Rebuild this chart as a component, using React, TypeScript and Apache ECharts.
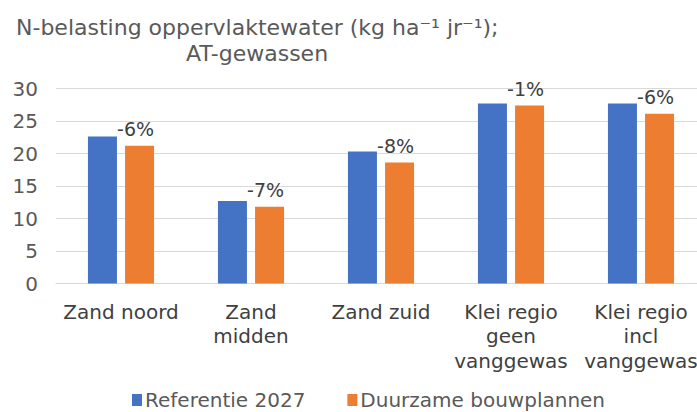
import React, { useEffect, useRef } from "react";
import * as echarts from "echarts";

const categories = [
  "Zand noord",
  "Zand\nmidden",
  "Zand zuid",
  "Klei regio\ngeen\nvanggewas",
  "Klei regio\nincl\nvanggewas",
];
const referentie = [22.6, 12.7, 20.3, 27.7, 27.7];
const duurzaam = [21.2, 11.8, 18.6, 27.4, 26.1];
const pctLabels = ["-6%", "-7%", "-8%", "-1%", "-6%"];
const yTicks = [0, 5, 10, 15, 20, 25, 30];

const FONT = "'DejaVu Sans', Verdana, sans-serif";

export default function App() {
  const ref = useRef<HTMLDivElement>(null);
  useEffect(() => {
    if (!ref.current) return;
    const chart = echarts.init(ref.current, undefined, { renderer: "svg" });
    chart.setOption({
      animation: false,
      textStyle: { fontFamily: FONT },
      title: [
        {
          text: "N-belasting oppervlaktewater (kg ha\u207B\u00B9 jr\u207B\u00B9);",
          left: 11,
          top: 11,
          textStyle: { fontFamily: FONT, fontSize: 22, fontWeight: "normal", color: "#595959" },
        },
        {
          text: "AT-gewassen",
          left: 181,
          top: 37,
          textStyle: { fontFamily: FONT, fontSize: 22, fontWeight: "normal", color: "#595959" },
        },
      ],
      legend: {
        left: 132,
        top: 390,
        padding: 0,
        itemWidth: 10,
        itemHeight: 12,
        itemGap: 42,
        icon: "rect",
        textStyle: {
          fontFamily: FONT,
          fontSize: 20,
          lineHeight: 16,
          color: "#595959",
          padding: [0, 0, 0, -2],
        },
        data: ["Referentie 2027", "Duurzame bouwplannen"],
      },
      grid: { left: 56, right: 0, top: 88.5, bottom: 128.5, containLabel: false },
      xAxis: {
        type: "category",
        data: categories,
        axisLine: { lineStyle: { color: "#d9d9d9", width: 1 } },
        axisTick: { show: false },
        axisLabel: {
          interval: 0,
          margin: 16,
          fontFamily: FONT,
          fontSize: 20,
          lineHeight: 24.5,
          color: "#404040",
        },
      },
      yAxis: {
        type: "value",
        min: yTicks[0],
        max: yTicks[yTicks.length - 1],
        interval: 5,
        axisLine: { show: false },
        axisTick: { show: false },
        splitLine: { lineStyle: { color: "#d9d9d9", width: 1 } },
        axisLabel: { margin: 18, fontFamily: FONT, fontSize: 20, color: "#595959" },
      },
      series: [
        {
          name: "Referentie 2027",
          type: "bar",
          data: referentie,
          barWidth: 29,
          barGap: "28%",
          itemStyle: { color: "#4472C4" },
        },
        {
          name: "Duurzame bouwplannen",
          type: "bar",
          data: duurzaam,
          barWidth: 29,
          barGap: "28%",
          itemStyle: { color: "#ED7D31" },
          label: {
            show: true,
            position: "top",
            distance: 7,
            offset: [-4, 0],
            fontFamily: FONT,
            fontSize: 19,
            color: "#404040",
            formatter: (p: any) => pctLabels[p.dataIndex],
          },
        },
      ],
    });
    return () => chart.dispose();
  }, []);
  return (
    <div
      style={{ position: "fixed", left: 0, top: 0, width: 697, height: 412, overflow: "hidden", background: "#fff" }}
    >
      <div ref={ref} style={{ width: 706, height: 412 }} />
    </div>
  );
}
